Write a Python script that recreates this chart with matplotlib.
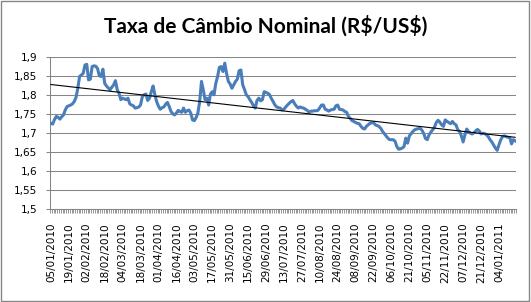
import matplotlib

matplotlib.use("Agg")
import matplotlib.pyplot as plt
import numpy as np
from matplotlib.patches import Rectangle
from matplotlib.ticker import FixedLocator, FuncFormatter

TITLE = r"Taxa de Câmbio Nominal (R\$/US\$)"

# one label every 10 business days
tick_labels = [
    "05/01/2010", "19/01/2010", "02/02/2010", "18/02/2010", "04/03/2010",
    "18/03/2010", "01/04/2010", "16/04/2010", "03/05/2010", "17/05/2010",
    "31/05/2010", "15/06/2010", "29/06/2010", "13/07/2010", "27/07/2010",
    "10/08/2010", "24/08/2010", "08/09/2010", "22/09/2010", "06/10/2010",
    "21/10/2010", "05/11/2010", "22/11/2010", "07/12/2010", "21/12/2010",
    "04/01/2011",
]
tick_step = 10

# daily R$/US$ rate
exchange_rate = [
    1.725, 1.723, 1.735, 1.743, 1.741, 1.736, 1.742, 1.747, 1.760, 1.769,
    1.771, 1.773, 1.776, 1.782, 1.793, 1.817, 1.848, 1.852, 1.856, 1.878,
    1.880, 1.839, 1.841, 1.874, 1.876, 1.875, 1.869, 1.850, 1.848, 1.867,
    1.830, 1.823, 1.818, 1.813, 1.820, 1.826, 1.837, 1.813, 1.804, 1.787,
    1.791, 1.789, 1.787, 1.791, 1.776, 1.773, 1.771, 1.765, 1.766, 1.768,
    1.773, 1.795, 1.800, 1.802, 1.785, 1.791, 1.808, 1.823, 1.800, 1.782,
    1.770, 1.762, 1.766, 1.768, 1.775, 1.780, 1.769, 1.756, 1.750, 1.747,
    1.752, 1.759, 1.756, 1.754, 1.765, 1.754, 1.758, 1.760, 1.752, 1.734,
    1.732, 1.740, 1.752, 1.782, 1.835, 1.813, 1.787, 1.791, 1.773, 1.802,
    1.808, 1.800, 1.830, 1.848, 1.872, 1.874, 1.861, 1.883, 1.856, 1.835,
    1.828, 1.817, 1.826, 1.835, 1.841, 1.863, 1.865, 1.826, 1.814, 1.800,
    1.795, 1.787, 1.780, 1.771, 1.765, 1.785, 1.791, 1.784, 1.787, 1.808,
    1.806, 1.804, 1.800, 1.790, 1.782, 1.773, 1.768, 1.766, 1.765, 1.760,
    1.762, 1.768, 1.773, 1.778, 1.782, 1.785, 1.776, 1.770, 1.765, 1.768,
    1.766, 1.765, 1.762, 1.759, 1.754, 1.757, 1.757, 1.758, 1.758, 1.759,
    1.766, 1.773, 1.773, 1.762, 1.760, 1.757, 1.760, 1.761, 1.762, 1.771,
    1.773, 1.762, 1.761, 1.760, 1.756, 1.754, 1.743, 1.738, 1.732, 1.730,
    1.727, 1.725, 1.724, 1.717, 1.712, 1.710, 1.717, 1.721, 1.725, 1.726,
    1.727, 1.721, 1.719, 1.717, 1.712, 1.704, 1.698, 1.692, 1.686, 1.682,
    1.682, 1.682, 1.678, 1.664, 1.657, 1.658, 1.660, 1.664, 1.686, 1.673,
    1.692, 1.698, 1.704, 1.708, 1.710, 1.711, 1.712, 1.707, 1.698, 1.685,
    1.682, 1.695, 1.702, 1.708, 1.715, 1.727, 1.733, 1.728, 1.721, 1.717,
    1.734, 1.730, 1.727, 1.724, 1.730, 1.724, 1.721, 1.708, 1.704, 1.692,
    1.676, 1.695, 1.710, 1.703, 1.699, 1.697, 1.700, 1.705, 1.709, 1.705,
    1.697, 1.699, 1.698, 1.695, 1.690, 1.682, 1.676, 1.668, 1.660, 1.654,
    1.669, 1.682, 1.690, 1.692, 1.690, 1.688, 1.688, 1.671, 1.682, 1.679,
]

y_ticks = [1.5, 1.55, 1.6, 1.65, 1.7, 1.75, 1.8, 1.85, 1.9]

GRAY = "#868686"
BLUE = "#4A7EBB"


def br_number(value: float, _pos=None) -> str:
    # Excel "General" format with a decimal comma
    text = f"{value:.2f}".rstrip("0").rstrip(".")
    return text.replace(".", ",")


def plot_rate(values: list[float], labels: list[str]):
    fig = plt.figure(figsize=(5.31, 3.02), dpi=100)
    fig.patches.append(
        Rectangle((0.002, 0.004), 0.994, 0.992, transform=fig.transFigure,
                  fill=False, edgecolor=GRAY, linewidth=1.0)
    )
    ax = fig.add_axes([0.0942, 0.308, 0.8776, 0.5043])

    x = np.arange(len(values))
    y = np.array(values)
    ax.plot(x, y, color=BLUE, linewidth=2.2, solid_joinstyle="round", zorder=3)

    # linear trend line, like the Excel one
    slope, intercept = np.polyfit(x, y, 1)
    ax.plot(x, slope * x + intercept, color="black", linewidth=0.8, zorder=4)

    ax.set_xlim(-0.5, len(values) - 0.5)
    ax.set_ylim(y_ticks[0], y_ticks[-1])

    ax.set_yticks(y_ticks)
    ax.yaxis.set_major_formatter(FuncFormatter(br_number))
    ax.yaxis.grid(True, color=GRAY, linewidth=0.75)
    ax.set_axisbelow(True)

    ax.set_xticks(np.arange(0, len(values), tick_step)[: len(labels)])
    ax.set_xticklabels(labels, rotation=90)
    ax.xaxis.set_minor_locator(FixedLocator(np.arange(-0.5, len(values), 1)))

    ax.tick_params(axis="x", which="major", length=0, pad=10, labelsize=7.5)
    ax.tick_params(axis="x", which="minor", length=3, color=GRAY, width=0.6)
    ax.tick_params(axis="y", length=3, color=GRAY, width=0.75, pad=6, labelsize=7.5)

    for side in ("top", "right"):
        ax.spines[side].set_visible(False)
    for side in ("left", "bottom"):
        ax.spines[side].set_color(GRAY)
        ax.spines[side].set_linewidth(0.75)

    fig.text(0.5, 0.915, TITLE, ha="center", va="center",
             fontsize=15, fontweight="bold", family="Lato")

    fig.savefig("out.png", dpi=100)
    return fig, ax


if __name__ == "__main__":
    plot_rate(exchange_rate, tick_labels)
